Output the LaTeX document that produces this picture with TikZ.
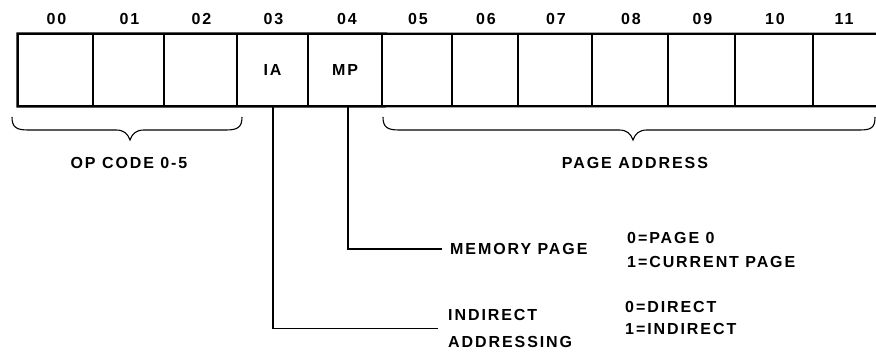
\documentclass[tikz,border=0pt]{standalone}
\usepackage{fontspec}
\setmainfont{Liberation Sans}[LetterSpace=12]
\begin{document}
\begin{tikzpicture}[x=1pt,y=-1pt,
  every node/.style={font=\bfseries\fontsize{16}{24}\selectfont, inner sep=0pt, text=black},
  cell/.style={draw, line width=1.1pt, minimum height=72pt, inner sep=0pt},
  frame/.style={line width=2.2pt},
  conn/.style={line width=1.1pt},
  brc/.style={line width=1.1pt}]
\useasboundingbox (0,0) rectangle (876,353);
% cells
\foreach \n/\a/\b/\t in {0/18/93/00,1/93/164/01,2/164/237/02,5/382/452/05,6/452/518/06,7/518/592/07,8/592/668/08,9/668/735/09,10/735/813/10}{
  \node[cell, minimum width={\b pt-\a pt}] (c\n) at ({(\a+\b)/2},70) {};
  \node (l\n) at ({(\a+\b)/2+1},19) {\t};
}
\node[cell, minimum width=71pt] (c3) at (272.5,70) {IA};
\node (l3) at (273.5,19) {03};
\node[cell, minimum width=74pt] (c4) at (345,70) {MP};
\node (l4) at (347,19) {04};
\node[minimum width=63pt, minimum height=72pt] (c11) at (844.5,70) {};
\node (l11) at (844,19) {11};
% frame
\draw[frame] (c11.north east) -- (c0.north west) -- (c0.south west) -- (c11.south east);
% braces
\draw[brc] (12,117) .. controls (12,127) and (16,130) .. (28,130) -- (116,130)
  .. controls (124,130) and (128,134) .. (130,140)
  .. controls (132,134) and (136,130) .. (144,130) -- (226,130)
  .. controls (238,130) and (242,127) .. (242,117);
\draw[brc] (383,117) .. controls (383,127) and (387,130) .. (399,130) -- (619,130)
  .. controls (627,130) and (631,134) .. (633,140)
  .. controls (635,134) and (639,130) .. (647,130) -- (860,130)
  .. controls (872,130) and (875,127) .. (875,117);
\node (op) at (129,163) {OP CODE 0-5};
\node (pa) at (635,163) {PAGE ADDRESS};
% labels
\node[anchor=west] (mp) at (450,249) {MEMORY PAGE};
\node[anchor=west, align=left, font=\bfseries\fontsize{16}{27}\selectfont] (ia) at (448,328.5) {INDIRECT\\ADDRESSING};
\node[anchor=west, align=left] (mpv) at (627,250) {0=PAGE 0\\1=CURRENT PAGE};
\node[anchor=west, align=left, font=\bfseries\fontsize{16}{22}\selectfont] (iav) at (625,318) {0=DIRECT\\1=INDIRECT};
% connectors
\draw[conn] ([xshift=3pt]c4.south) |- ([xshift=-8pt]mp.west);
\draw[conn] ([xshift=0.5pt]c3.south) |- ([xshift=-10pt]ia.west);
\end{tikzpicture}
\end{document}
